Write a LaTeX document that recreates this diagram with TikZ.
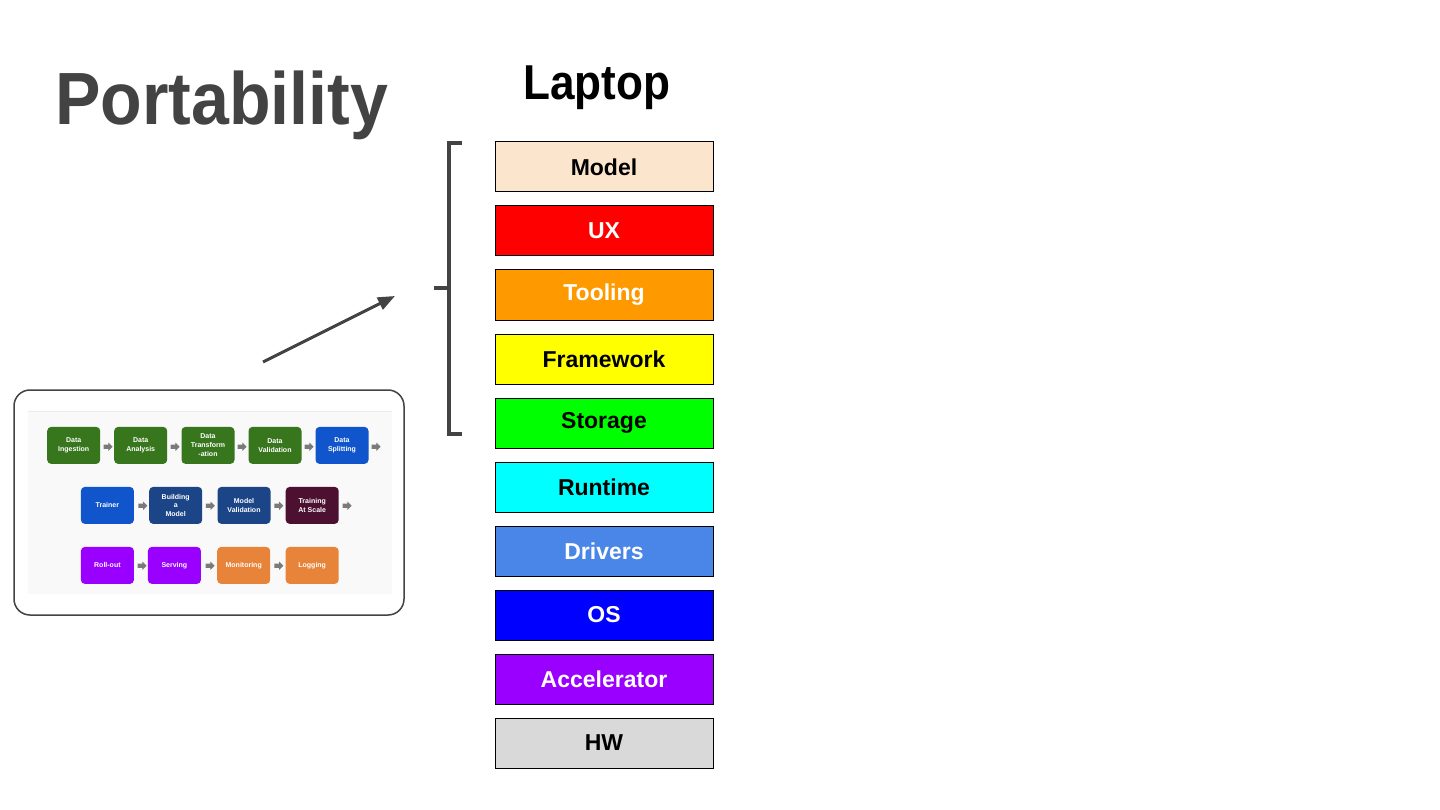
\documentclass[tikz,border=0pt]{standalone}
\usepackage{fontspec}
\setmainfont{Liberation Sans}
\newfontfamily\rob[FakeStretch=0.92]{Liberation Sans}
\newfontfamily\robn[FakeStretch=0.9]{Liberation Sans}
\usetikzlibrary{arrows.meta,shapes.arrows}
\definecolor{dgray}{HTML}{434343}
\definecolor{cmodel}{HTML}{FCE5CD}
\definecolor{cux}{HTML}{FF0000}
\definecolor{ctool}{HTML}{FF9900}
\definecolor{cframe}{HTML}{FFFF00}
\definecolor{cstore}{HTML}{00FF00}
\definecolor{crun}{HTML}{00FFFF}
\definecolor{cdriv}{HTML}{4A86E8}
\definecolor{cos}{HTML}{0000FF}
\definecolor{cacc}{HTML}{9900FF}
\definecolor{chw}{HTML}{D9D9D9}
\definecolor{pgreen}{HTML}{38761D}
\definecolor{pblue}{HTML}{1155CC}
\definecolor{pdblue}{HTML}{1C4587}
\definecolor{pmaroon}{HTML}{4C1130}
\definecolor{ppurple}{HTML}{9900FF}
\definecolor{porange}{HTML}{E8833A}
\definecolor{parrow}{HTML}{7A7A7A}
\definecolor{pbg}{HTML}{F9F9F9}
\tikzset{
  layer/.style={draw=black, line width=1pt, minimum width=218pt, minimum height=50pt, inner sep=0pt,
    font=\fontsize{23}{27}\selectfont\bfseries},
  pbox/.style={rounded corners=4pt, minimum width=53pt, minimum height=37pt, inner sep=0pt, text=white,
    align=center, font=\fontsize{7}{8.8}\selectfont\bfseries},
  parr/.style={single arrow, fill=parrow, draw=none, inner xsep=2.5pt, inner ysep=2pt,
    minimum height=9pt, single arrow head extend=2pt, single arrow head indent=0pt}
}
\begin{document}
\begin{tikzpicture}[x=1pt,y=-1pt]
\useasboundingbox[fill=white] (0,0) rectangle (1440,810);
% titles
\node[anchor=base west, inner sep=0pt, text=dgray, font=\rob\fontsize{74}{80}\selectfont\bfseries] (title) at (55,125) {Portability};
\node[anchor=base, inner sep=0pt, text=black, font=\robn\fontsize{49}{56}\selectfont\bfseries] (laptop) at (597,100) {Laptop};
% stack
\node[layer, fill=cmodel, text=black] (model) at (604,167) {Model};
\node[layer, fill=cux, text=white] (ux) at (604,231) {UX};
\node[layer, fill=ctool, text=white] (tool) at (604,295) {Tooling};
\node[layer, fill=cframe, text=black] (frame) at (604,359) {Framework};
\node[layer, fill=cstore, text=black] (store) at (604,423) {Storage};
\node[layer, fill=crun, text=black] (run) at (604,487) {Runtime};
\node[layer, fill=cdriv, text=white] (driv) at (604,551) {Drivers};
\node[layer, fill=cos, text=white] (os) at (604,615) {OS};
\node[layer, fill=cacc, text=white] (acc) at (604,679) {Accelerator};
\node[layer, fill=chw, text=black] (hw) at (604,743) {HW};
% bracket
\draw[dgray, line width=3.5pt, line join=miter] (462,143) -- (449,143) -- (449,434) -- (462,434);
\draw[dgray, line width=3.5pt] (449,288) -- (434,288);
% arrow
\coordinate (as) at (263,362);
\coordinate (ae) at (395,296);
\draw[dgray, line width=3pt, -{Triangle[length=17pt,width=13pt]}] (as) -- (ae);
% pipeline frame
\node[draw=dgray, line width=1.5pt, rounded corners=16pt, minimum width=390pt, minimum height=225pt, inner sep=0pt] (frame0) at (209,502.5) {};
\fill[pbg] (28,411) rectangle (392,594);
\draw[black!8, line width=0.6pt] (28,411) -- (392,411);
% row 1
\node[pbox, fill=pgreen] (p1) at (73.7,445.4) {Data\\Ingestion};
\node[pbox, fill=pgreen] (p2) at (140.7,445.4) {Data\\Analysis};
\node[pbox, fill=pgreen] (p3) at (208,445.4) {Data\\Transform\\-ation};
\node[pbox, fill=pgreen] (p4) at (275,445.4) {Data\\Validation};
\node[pbox, fill=pblue] (p5) at (342,445.4) {Data\\Splitting};
\node[parr] (a1) at (107,446.7) {};
\node[parr] (a2) at (174,446.7) {};
\node[parr] (a3) at (241,446.7) {};
\node[parr] (a4) at (308,446.7) {};
\node[parr] (a5) at (375,446.7) {};
% row 2
\node[pbox, fill=pblue] (q1) at (107.4,505.4) {Trainer};
\node[pbox, fill=pdblue] (q2) at (175.7,505.4) {Building\\a\\Model};
\node[pbox, fill=pdblue] (q3) at (244,505.4) {Model\\Validation};
\node[pbox, fill=pmaroon] (q4) at (312.2,505.4) {Training\\At Scale};
\node[parr] (b1) at (141.7,505.7) {};
\node[parr] (b2) at (209.3,505.7) {};
\node[parr] (b3) at (277.7,505.7) {};
\node[parr] (b4) at (346,505.7) {};
% row 3
\node[pbox, fill=ppurple] (r1) at (107.4,565.4) {Roll-out};
\node[pbox, fill=ppurple] (r2) at (174.4,565.4) {Serving};
\node[pbox, fill=porange] (r3) at (243.7,565.4) {Monitoring};
\node[pbox, fill=porange] (r4) at (312.2,565.4) {Logging};
\node[parr] (c1) at (141,565.7) {};
\node[parr] (c2) at (209,565.7) {};
\node[parr] (c3) at (277.7,565.7) {};
\end{tikzpicture}
\end{document}
